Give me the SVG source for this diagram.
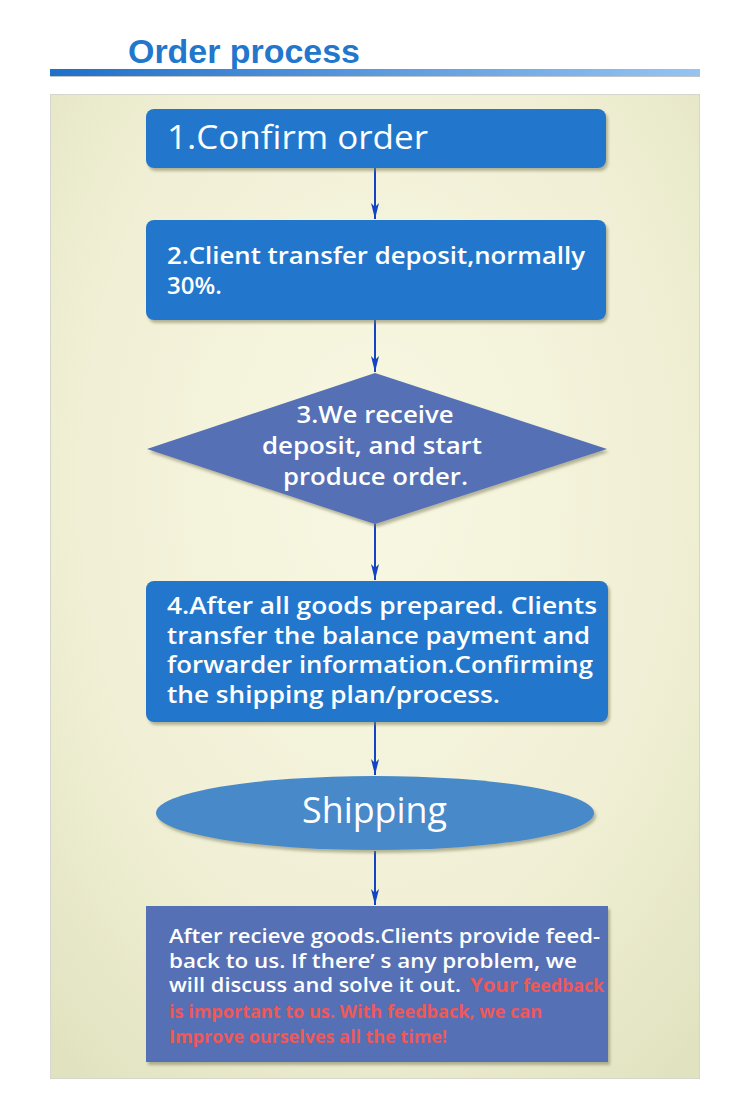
<svg xmlns="http://www.w3.org/2000/svg" width="750" height="1101" viewBox="0 0 750 1101">
<defs>
<linearGradient id="bar" x1="0" y1="0" x2="1" y2="0">
<stop offset="0" stop-color="#1f70c9"/>
<stop offset="1" stop-color="#95c4f3"/>
</linearGradient>
<radialGradient id="panel" cx="0.5" cy="0.4" r="0.75">
<stop offset="0" stop-color="#f8f7e2"/>
<stop offset="0.6" stop-color="#f1f0d6"/>
<stop offset="1" stop-color="#e1e3c0"/>
</radialGradient>
<filter id="sh" x="-5%" y="-10%" width="112%" height="125%">
<feDropShadow dx="2" dy="3" stdDeviation="1.5" flood-color="#7d7d5c" flood-opacity="0.55"/>
</filter>
<marker id="ah" viewBox="0 0 16 10" refX="16" refY="5" markerWidth="16" markerHeight="10" markerUnits="userSpaceOnUse" orient="auto">
<path d="M0,1 L16,5 L0,9 L4,5 Z" fill="#1244c4"/>
</marker>
</defs>
<style>
.t{font-family:"Open Sans","Noto Sans","DejaVu Sans",sans-serif;fill:#ffffff;font-weight:600}
.big{font-weight:normal}
.r{font-family:"Open Sans","Noto Sans","DejaVu Sans",sans-serif;fill:#f05858;font-weight:bold}
.c{stroke:#1244c4;stroke-width:2;fill:none;marker-end:url(#ah)}
</style>
<rect width="750" height="1101" fill="#ffffff"/>
<g id="header">
<text x="128" y="63" font-family="'Liberation Sans',Arial,sans-serif" font-weight="bold" font-size="34" fill="#2276cc" textLength="232" lengthAdjust="spacingAndGlyphs">Order process</text>
<rect x="50" y="69" width="650" height="7" fill="url(#bar)"/>
<line x1="50" y1="76.5" x2="700" y2="76.5" stroke="#c4c4c4" stroke-width="1"/>
</g>
<rect id="panel-bg" x="50.5" y="94.5" width="649" height="984" fill="url(#panel)" stroke="#d6d6cc" stroke-width="1"/>
<g id="connectors">
<line class="c" x1="375" y1="168" x2="375" y2="219"/>
<line class="c" x1="375" y1="320" x2="375" y2="372"/>
<line class="c" x1="375" y1="524" x2="375" y2="580"/>
<line class="c" x1="375" y1="722" x2="375" y2="775"/>
<line class="c" x1="375" y1="851" x2="375" y2="905"/>
</g>
<g id="n1">
<rect x="146" y="109" width="460" height="59" rx="8" fill="#2277cc" filter="url(#sh)"/>
<text class="t big" x="167" y="149" font-size="33" textLength="261" lengthAdjust="spacingAndGlyphs">1.Confirm order</text>
</g>
<g id="n2">
<rect x="146" y="220" width="460" height="100" rx="8" fill="#2277cc" filter="url(#sh)"/>
<text class="t" x="167" y="264" font-size="24" textLength="418" lengthAdjust="spacingAndGlyphs">2.Client transfer deposit,normally</text>
<text class="t" x="167" y="294" font-size="24">30%.</text>
</g>
<g id="n3">
<polygon points="375,373 607,449 375,524 147,449" fill="#5570b5" filter="url(#sh)"/>
<text class="t" x="375" y="423" font-size="24" text-anchor="middle" textLength="157" lengthAdjust="spacingAndGlyphs">3.We receive</text>
<text class="t" x="372" y="454" font-size="24" text-anchor="middle" textLength="220" lengthAdjust="spacingAndGlyphs">deposit, and start</text>
<text class="t" x="375.5" y="485" font-size="24" text-anchor="middle" textLength="185" lengthAdjust="spacingAndGlyphs">produce order.</text>
</g>
<g id="n4">
<rect x="146" y="581" width="462" height="141" rx="8" fill="#2277cc" filter="url(#sh)"/>
<text class="t" x="167" y="614" font-size="23.5" textLength="430" lengthAdjust="spacingAndGlyphs">4.After all goods prepared. Clients</text>
<text class="t" x="167" y="643.5" font-size="23.5" textLength="423" lengthAdjust="spacingAndGlyphs">transfer the balance payment and</text>
<text class="t" x="167" y="673" font-size="23.5" textLength="426" lengthAdjust="spacingAndGlyphs">forwarder information.Confirming</text>
<text class="t" x="167" y="702.5" font-size="23.5" textLength="333" lengthAdjust="spacingAndGlyphs">the shipping plan/process.</text>
</g>
<g id="n5">
<ellipse cx="375" cy="813" rx="219" ry="37" fill="#4689c9" filter="url(#sh)"/>
<text class="t big" x="374.5" y="823" font-size="36" text-anchor="middle" textLength="145" lengthAdjust="spacingAndGlyphs">Shipping</text>
</g>
<g id="n6">
<rect x="146" y="906" width="462" height="156" fill="#5570b5" filter="url(#sh)"/>
<text class="t" x="169" y="943" font-size="19" textLength="431" lengthAdjust="spacingAndGlyphs">After recieve goods.Clients provide feed-</text>
<text class="t" x="169" y="967.5" font-size="19" textLength="408" lengthAdjust="spacingAndGlyphs">back to us. If there’ s any problem, we</text>
<text class="t" x="169" y="992" font-size="19" textLength="292" lengthAdjust="spacingAndGlyphs">will discuss and solve it out.</text>
<text class="r" x="470" y="992" font-size="19.5" textLength="48" lengthAdjust="spacingAndGlyphs">Your</text>
<text class="r" x="523" y="992" font-size="17" textLength="81" lengthAdjust="spacingAndGlyphs">feedback</text>
<text class="r" x="169" y="1018" font-size="18" textLength="373" lengthAdjust="spacingAndGlyphs">is important to us. With feedback, we can</text>
<text class="r" x="169" y="1043" font-size="18" textLength="278" lengthAdjust="spacingAndGlyphs">Improve ourselves all the time!</text>
</g>
</svg>
